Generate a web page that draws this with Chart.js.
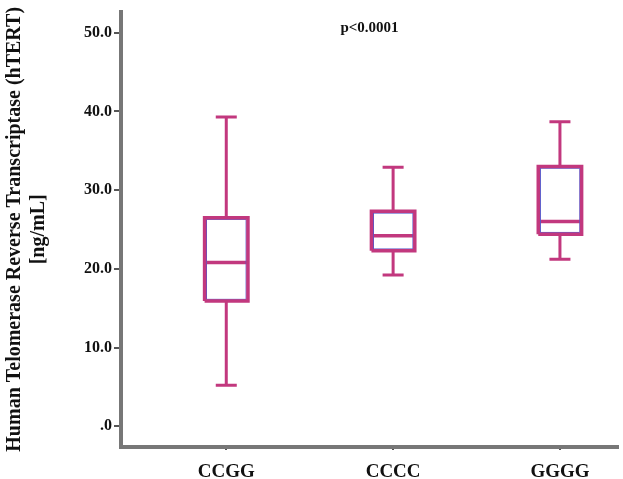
<!DOCTYPE html>
<html>
<head>
<meta charset="utf-8">
<script src="https://cdn.jsdelivr.net/npm/chart.js@4.4.1/dist/chart.umd.min.js"></script>
<style>
  html, body { margin: 0; padding: 0; background: #fff; }
  #wrap { width: 623px; height: 479px; position: relative; }
</style>
</head>
<body>
<div id="wrap"><canvas id="boxChart"></canvas></div>
<script>
// genotype groups and box statistics (ng/mL)
const categories = ['CCGG', 'CCCC', 'GGGG'];
const mins    = [5.2, 19.2, 21.2];
const q1s     = [15.9, 22.3, 24.4];
const medians = [20.8, 24.2, 26.0];
const q3s     = [26.5, 27.3, 33.0];
const maxs    = [39.3, 32.9, 38.7];
const yTicks  = [0, 10, 20, 30, 40, 50];
const pText   = 'p<0.0001';

const pink = '#c2387e';
const blue = '#5656c8';
const boxHalf = 0.13;   // half width of box (x units)
const capHalf = 0.063;  // half width of whisker caps

const whiskers = [], caps = [], boxes = [], inner = [], meds = [];
categories.forEach((c, i) => {
    const x = i + 1;
    whiskers.push({x: x, y: mins[i]}, {x: x, y: q1s[i]}, {x: x, y: null});
    whiskers.push({x: x, y: q3s[i]}, {x: x, y: maxs[i]}, {x: x, y: null});
    caps.push({x: x - capHalf, y: mins[i]}, {x: x + capHalf, y: mins[i]}, {x: x, y: null});
    caps.push({x: x - capHalf, y: maxs[i]}, {x: x + capHalf, y: maxs[i]}, {x: x, y: null});
    boxes.push({x: x - boxHalf, y: q1s[i]}, {x: x + boxHalf, y: q1s[i]},
               {x: x + boxHalf, y: q3s[i]}, {x: x - boxHalf, y: q3s[i]},
               {x: x - boxHalf, y: q1s[i]}, {x: x, y: null});
    // thin blue edge just inside the box
    const dx = 0.011, dy = 0.22;
    inner.push({x: x - boxHalf + dx, y: q1s[i] + dy}, {x: x + boxHalf - dx, y: q1s[i] + dy},
               {x: x + boxHalf - dx, y: q3s[i] - dy}, {x: x - boxHalf + dx, y: q3s[i] - dy},
               {x: x - boxHalf + dx, y: q1s[i] + dy}, {x: x, y: null});
    meds.push({x: x - boxHalf, y: medians[i]}, {x: x + boxHalf, y: medians[i]}, {x: x, y: null});
});

function lineSet(data, color, width) {
    return {
        data: data,
        showLine: true,
        spanGaps: false,
        borderColor: color,
        borderWidth: width,
        pointRadius: 0,
        pointHoverRadius: 0,
        fill: false
    };
}

const pLabel = {
    id: 'pLabel',
    afterDraw(chart) {
        const ctx = chart.ctx;
        const a = chart.chartArea;
        ctx.save();
        ctx.font = 'bold 15px "Liberation Serif"';
        ctx.fillStyle = '#111';
        ctx.textAlign = 'center';
        ctx.textBaseline = 'middle';
        ctx.fillText(pText, (a.left + a.right) / 2, chart.scales.y.getPixelForValue(50.6));
        ctx.restore();
    }
};

const serif = '"Liberation Serif", "DejaVu Serif", serif';

new Chart(document.getElementById('boxChart'), {
    type: 'scatter',
    data: {
        datasets: [
            lineSet(whiskers, pink, 3),
            lineSet(caps, pink, 3),
            lineSet(boxes, pink, 3.5),
            lineSet(inner, blue, 1),
            lineSet(meds, pink, 3.5)
        ]
    },
    options: {
        responsive: true,
        maintainAspectRatio: false,
        animation: false,
        layout: { padding: { top: 8, right: 5, bottom: 0, left: 0 } },
        plugins: {
            legend: { display: false },
            tooltip: { enabled: false }
        },
        scales: {
            x: {
                type: 'linear',
                min: 0.369,
                max: 3.348,
                afterBuildTicks: s => { s.ticks = [1, 2, 3].map(v => ({value: v})); },
                afterFit: s => { s.height = 32; },
                border: { display: true, color: '#777', width: 4 },
                grid: { drawOnChartArea: false, color: '#555', lineWidth: 2, tickLength: 3 },
                ticks: {
                    color: '#111',
                    padding: 11,
                    font: { family: serif, size: 19, weight: 'bold' },
                    callback: v => categories[v - 1]
                }
            },
            y: {
                min: -2.64,
                max: 52.68,
                afterBuildTicks: s => { s.ticks = yTicks.map(v => ({value: v})); },
                afterFit: s => { s.width = 121; },
                border: { display: true, color: '#777', width: 4 },
                grid: { drawOnChartArea: false, color: '#555', lineWidth: 2, tickLength: 7 },
                ticks: {
                    color: '#111',
                    padding: 2,
                    font: { family: serif, size: 16, weight: 'bold' },
                    callback: v => v === 0 ? '.0' : v.toFixed(1)
                },
                title: {
                    display: true,
                    text: ['Human Telomerase Reverse Transcriptase (hTERT)', '[ng/mL]'],
                    color: '#111',
                    font: { family: serif, size: 20, weight: 'bold', lineHeight: 1.2 },
                    padding: { top: 3, bottom: 0 }
                }
            }
        }
    },
    plugins: [pLabel]
});
</script>
</body>
</html>
